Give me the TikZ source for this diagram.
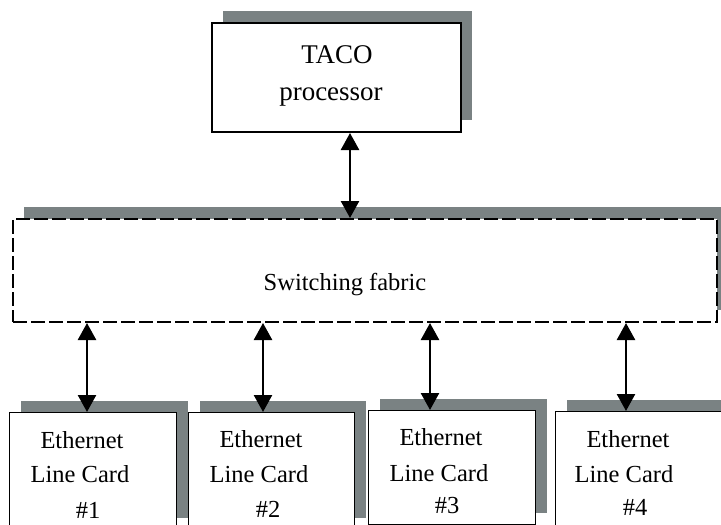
\documentclass[tikz,border=0pt]{standalone}
\usepackage{fontspec}
\setmainfont{Liberation Serif}
\usetikzlibrary{arrows.meta,shadows}
\definecolor{shadowc}{RGB}{122,130,131}
\begin{document}
\begin{tikzpicture}[x=1pt,y=-1pt,
  shadowed/.style={drop shadow={shadow xshift=11pt,shadow yshift=12pt,fill=shadowc,opacity=1}},
  tacobox/.style={draw=black,fill=white,line width=2pt,anchor=north west,inner sep=0pt,shadowed},
  fabricbox/.style={draw=black,fill=white,line width=2pt,dash pattern=on 14pt off 4pt,anchor=north west,inner sep=0pt,shadowed},
  cardbox/.style={draw=black,fill=white,line width=1.2pt,anchor=north west,inner sep=0pt,shadowed},
  txt/.style={anchor=base,inner sep=0pt,font=\fontsize{24.5}{30}\selectfont},
  bigtxt/.style={anchor=base,inner sep=0pt,font=\fontsize{27}{33}\selectfont},
  biarrow/.style={line width=2.5pt,{Triangle[length=17pt,width=18pt]}-{Triangle[length=17pt,width=18pt]},shorten <=0pt,shorten >=0pt}
]
\useasboundingbox (0,0) rectangle (721,525);
\clip (0,0) rectangle (721,525);
% boxes
\node[tacobox,minimum width=249pt,minimum height=109pt] (taco) at (211,22) {};
\node[fabricbox,minimum width=704pt,minimum height=103pt] (fabric) at (12,218) {};
\node[cardbox,minimum width=167pt,minimum height=117pt] (card1) at (9,412) {};
\node[cardbox,minimum width=166pt,minimum height=117pt] (card2) at (188,412) {};
\node[cardbox,minimum width=167pt,minimum height=114pt] (card3) at (368,410) {};
\node[cardbox,minimum width=167pt,minimum height=117pt] (card4) at (555,411) {};
% texts
\node[bigtxt] (tacoA) at (337,63) {TACO};
\node[bigtxt] (tacoB) at (331,100) {processor};
\node[txt] (fabtxt) at (345,290) {Switching fabric};
\node[txt] (c1a) at (82,448) {Ethernet};
\node[txt] (c1b) at (80,482) {Line Card};
\node[txt] (c1c) at (88,518) {\#1};
\node[txt] (c2a) at (261,447) {Ethernet};
\node[txt] (c2b) at (259,482) {Line Card};
\node[txt] (c2c) at (268,517) {\#2};
\node[txt] (c3a) at (441,445) {Ethernet};
\node[txt] (c3b) at (439,481) {Line Card};
\node[txt] (c3c) at (447,513) {\#3};
\node[txt] (c4a) at (628,447) {Ethernet};
\node[txt] (c4b) at (624,482) {Line Card};
\node[txt] (c4c) at (635,515) {\#4};
% arrow positions
\coordinate (a0) at (350,0);
\coordinate (a1) at (87,0);
\coordinate (a2) at (263,0);
\coordinate (a3) at (430,0);
\coordinate (a4) at (626,0);
\draw[biarrow] (taco.south -| a0) -- (fabric.north -| a0);
\draw[biarrow] (fabric.south -| a1) -- (card1.north -| a1);
\draw[biarrow] (fabric.south -| a2) -- (card2.north -| a2);
\draw[biarrow] (fabric.south -| a3) -- (card3.north -| a3);
\draw[biarrow] (fabric.south -| a4) -- (card4.north -| a4);
\end{tikzpicture}
\end{document}
